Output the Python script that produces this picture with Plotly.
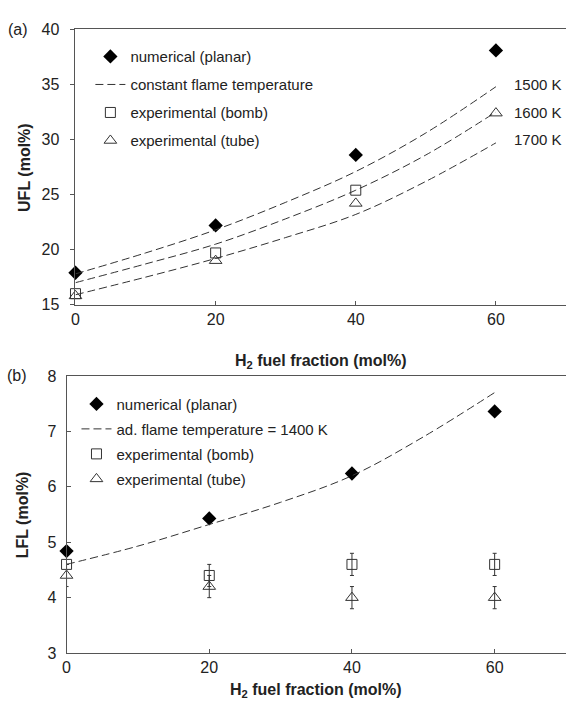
import plotly.graph_objects as go

# ---------------- data ----------------
h2 = [0, 20, 40, 60]
curve_x = [0, 10, 20, 30, 40, 50, 60]

ufl_num = [17.9, 22.2, 28.6, 38.1]
ufl_bomb_x = [0, 20, 40]
ufl_bomb = [16.0, 19.7, 25.4]
ufl_tube = [15.8, 19.0, 24.2, 32.4]
ufl_1500 = [17.8, 19.7, 21.8, 24.3, 27.1, 30.6, 34.8]
ufl_1600 = [17.0, 18.7, 20.5, 22.8, 25.4, 28.6, 32.5]
ufl_1700 = [15.9, 17.5, 19.2, 21.1, 23.2, 26.2, 29.7]
temp_labels = ["1500 K", "1600 K", "1700 K"]
temp_label_y = [35.0, 32.5, 30.0]

lfl_num = [4.84, 5.43, 6.24, 7.36]
lfl_1400 = [4.60, 4.93, 5.32, 5.72, 6.20, 6.90, 7.70]
lfl_bomb = [4.6, 4.4, 4.6, 4.6]
lfl_bomb_err = [0.0, 0.2, 0.2, 0.2]
lfl_tube = [4.4, 4.2, 4.0, 4.0]
lfl_tube_err = [0.2, 0.2, 0.2, 0.2]

FONT = "Liberation Sans, Arial, sans-serif"
DARK = "#333333"
AX = "#555555"
TXT = "#222222"

fig = go.Figure()

# ---------- panel (a) ----------
fig.add_trace(go.Scatter(x=h2, y=ufl_num, mode="markers", name="numerical (planar)",
                         marker=dict(symbol="diamond", size=11, color="black"), cliponaxis=False,
                         xaxis="x", yaxis="y", legend="legend", legendgroup="a1"))
for i, (yy, nm) in enumerate([(ufl_1500, "constant flame temperature"),
                              (ufl_1600, "1600 K"), (ufl_1700, "1700 K")]):
    fig.add_trace(go.Scatter(x=curve_x, y=yy, mode="lines", name=nm,
                             line=dict(color=DARK, width=1, dash="8px,4px", shape="spline"),
                             showlegend=(i == 0), xaxis="x", yaxis="y", legend="legend",
                             legendgroup="a2"))
fig.add_trace(go.Scatter(x=ufl_bomb_x, y=ufl_bomb, mode="markers", name="experimental (bomb)",
                         marker=dict(symbol="square-open", size=10, color=DARK, line=dict(width=1)),
                         cliponaxis=False,
                         xaxis="x", yaxis="y", legend="legend", legendgroup="a3"))
fig.add_trace(go.Scatter(x=h2, y=ufl_tube, mode="markers", name="experimental (tube)",
                         marker=dict(symbol="triangle-up-open", size=11, color=DARK, line=dict(width=1)),
                         cliponaxis=False,
                         xaxis="x", yaxis="y", legend="legend", legendgroup="a4"))

# ---------- panel (b) ----------
fig.add_trace(go.Scatter(x=h2, y=lfl_num, mode="markers", name="numerical (planar)",
                         marker=dict(symbol="diamond", size=11, color="black"), cliponaxis=False,
                         xaxis="x2", yaxis="y2", legend="legend2", legendgroup="b1"))
fig.add_trace(go.Scatter(x=curve_x, y=lfl_1400, mode="lines", name="ad. flame temperature = 1400 K",
                         line=dict(color=DARK, width=1, dash="8px,4px", shape="spline"),
                         xaxis="x2", yaxis="y2", legend="legend2", legendgroup="b2"))
fig.add_trace(go.Scatter(x=h2, y=lfl_bomb, mode="markers", name="experimental (bomb)",
                         marker=dict(symbol="square-open", size=10, color=DARK, line=dict(width=1)),
                         error_y=dict(type="data", array=lfl_bomb_err, color=DARK, thickness=1, width=2),
                         cliponaxis=False,
                         xaxis="x2", yaxis="y2", legend="legend2", legendgroup="b3"))
fig.add_trace(go.Scatter(x=h2, y=lfl_tube, mode="markers", name="experimental (tube)",
                         marker=dict(symbol="triangle-up-open", size=11, color=DARK, line=dict(width=1)),
                         error_y=dict(type="data", array=lfl_tube_err, color=DARK, thickness=1, width=2),
                         cliponaxis=False,
                         xaxis="x2", yaxis="y2", legend="legend2", legendgroup="b4"))

W, H = 566, 706
ya_dom = [1 - 304 / H, 1 - 22 / H]
yb_dom = [1 - 661 / H, 1 - 377 / H]

common_x = dict(range=[0, 70], tickvals=[0, 20, 40, 60], ticks="inside", ticklen=4,
                tickcolor=AX, showline=True, linecolor=AX, linewidth=1, mirror=True,
                showgrid=False, zeroline=False,
                tickfont=dict(family=FONT, size=16, color=TXT))

annotations = []
for lab, yv in zip(temp_labels, temp_label_y):
    annotations.append(dict(x=62.3, y=yv, xref="x", yref="y", text=lab, showarrow=False,
                            xanchor="left", yanchor="middle",
                            font=dict(family=FONT, size=15, color=TXT)))
annotations += [
    dict(x=2 / W, y=1 - 22 / H, xref="paper", yref="paper", text="(a)", showarrow=False,
         xanchor="left", yanchor="middle", font=dict(family=FONT, size=16, color=TXT)),
    dict(x=1 / W, y=1 - 377 / H, xref="paper", yref="paper", text="(b)", showarrow=False,
         xanchor="left", yanchor="middle", font=dict(family=FONT, size=16, color=TXT)),
    dict(x=20 / W, y=1 - 163 / H, xref="paper", yref="paper", text="<b>UFL (mol%)</b>",
         showarrow=False, textangle=-90, xanchor="center", yanchor="middle",
         font=dict(family=FONT, size=16, color=TXT)),
    dict(x=19 / W, y=1 - 519 / H, xref="paper", yref="paper", text="<b>LFL (mol%)</b>",
         showarrow=False, textangle=-90, xanchor="center", yanchor="middle",
         font=dict(family=FONT, size=16, color=TXT)),
    dict(x=319 / W, y=1 - 362 / H, xref="paper", yref="paper",
         text="<b>H<sub>2</sub> fuel fraction (mol%)</b>", showarrow=False,
         xanchor="center", yanchor="middle", font=dict(family=FONT, size=16, color=TXT)),
    dict(x=314 / W, y=1 - 699 / H, xref="paper", yref="paper",
         text="<b>H<sub>2</sub> fuel fraction (mol%)</b>", showarrow=False,
         xanchor="center", yanchor="middle", font=dict(family=FONT, size=16, color=TXT)),
]

legend_common = dict(font=dict(family=FONT, size=15, color=TXT), bgcolor="rgba(0,0,0,0)",
                     borderwidth=0, xanchor="left", yanchor="top", traceorder="grouped",
                     itemwidth=30)

fig.update_layout(
    width=W, height=H, margin=dict(l=0, r=0, t=0, b=0),
    paper_bgcolor="white", plot_bgcolor="white",
    xaxis=dict(domain=[72 / W, 1], anchor="y", **common_x),
    yaxis=dict(domain=ya_dom, anchor="x", range=[15, 40], dtick=5, ticks="outside", ticklen=4,
               tickcolor=AX, showline=True, linecolor=AX, linewidth=1, showgrid=False,
               zeroline=False, ticklabelstandoff=8,
               tickfont=dict(family=FONT, size=16, color=TXT)),
    xaxis2=dict(domain=[63 / W, 1], anchor="y2", **common_x),
    yaxis2=dict(domain=yb_dom, anchor="x2", range=[3, 8], dtick=1, ticks="inside", ticklen=4,
                tickcolor=AX, showline=True, linecolor=AX, linewidth=1, showgrid=False,
                zeroline=False, ticklabelstandoff=6,
                tickfont=dict(family=FONT, size=16, color=TXT)),
    legend=dict(x=87 / W, y=1 - 33 / H, tracegroupgap=5.5, **legend_common),
    legend2=dict(x=73 / W, y=1 - 389 / H, tracegroupgap=2.5, **legend_common),
    annotations=annotations,
    showlegend=True,
)

fig.write_html("out.html")
